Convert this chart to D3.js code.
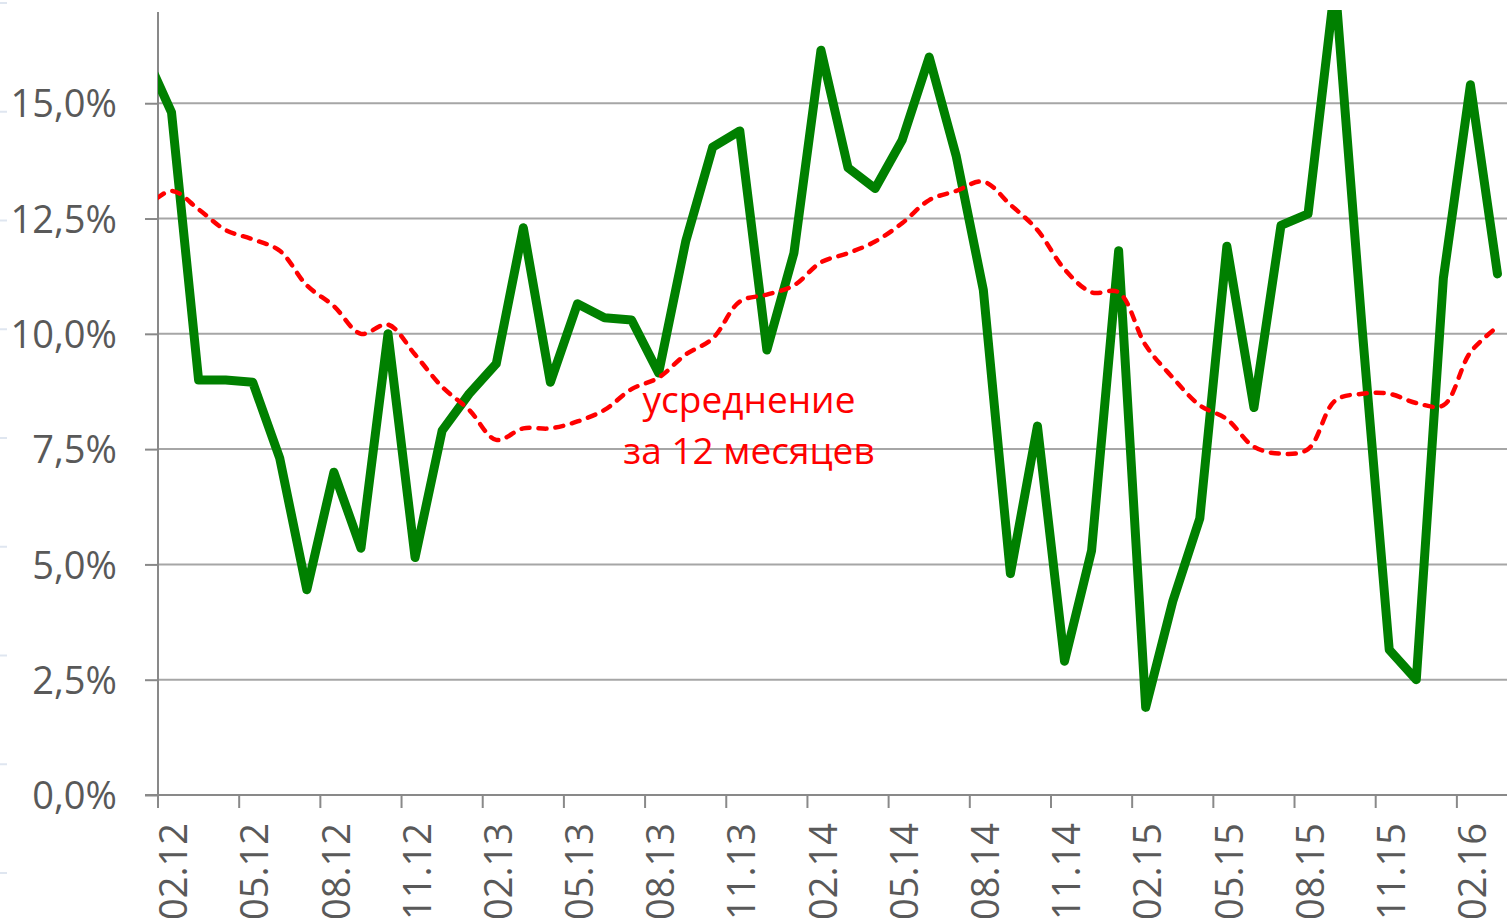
<!DOCTYPE html>
<html>
<head>
<meta charset="utf-8">
<script src="https://cdn.jsdelivr.net/npm/d3@7"></script>
<style>
  html, body { margin: 0; padding: 0; background: #fff; }
  svg { display: block; font-family: "Open Sans", "DejaVu Sans", sans-serif; }
</style>
</head>
<body>
<div id="graph"></div>
<script>
// Data (monthly, first month is partly hidden behind the axis)
const months = [
  "01.12", "02.12", "03.12", "04.12", "05.12", "06.12", "07.12", "08.12", "09.12", "10.12", "11.12", "12.12",
  "01.13", "02.13", "03.13", "04.13", "05.13", "06.13", "07.13", "08.13", "09.13", "10.13", "11.13", "12.13",
  "01.14", "02.14", "03.14", "04.14", "05.14", "06.14", "07.14", "08.14", "09.14", "10.14", "11.14", "12.14",
  "01.15", "02.15", "03.15", "04.15", "05.15", "06.15", "07.15", "08.15", "09.15", "10.15", "11.15", "12.15",
  "01.16", "02.16", "03.16"
];

const monthly = [
  16.1, 14.8, 9.0, 9.0, 8.95, 7.3, 4.45, 7.0, 5.35, 10.0, 5.15, 7.9,
  8.7, 9.35, 12.3, 8.95, 10.65, 10.35, 10.3, 9.15, 12.0, 14.05, 14.4, 9.65,
  11.75, 16.15, 13.6, 13.15, 14.2, 16.0, 13.85, 10.95, 4.8, 8.0, 2.9, 5.3,
  11.8, 1.9, 4.2, 6.0, 11.9, 8.4, 12.35, 12.6, 17.6, 10.1, 3.15, 2.5,
  11.2, 15.4, 11.3
];

const average12 = [
  12.7, 13.1, 12.7, 12.25, 12.05, 11.8, 11.05, 10.6, 10.0, 10.2, 9.55, 8.85,
  8.35, 7.7, 7.95, 7.95, 8.1, 8.35, 8.8, 9.05, 9.55, 9.9, 10.7, 10.85,
  11.05, 11.55, 11.75, 12.0, 12.4, 12.9, 13.1, 13.3, 12.8, 12.25, 11.4, 10.9,
  10.9, 9.75, 9.05, 8.45, 8.15, 7.55, 7.4, 7.5, 8.55, 8.7, 8.7, 8.5,
  8.45, 9.6, 10.15
];

const xLabels = ["02.12", "05.12", "08.12", "11.12", "02.13", "05.13", "08.13", "11.13",
  "02.14", "05.14", "08.14", "11.14", "02.15", "05.15", "08.15", "11.15", "02.16"];

const yTicks = [0, 2.5, 5, 7.5, 10, 12.5, 15];

const noteLines = ["усреднение", "за 12 месяцев"];

// Layout
const width = 1507;
const height = 922;
const plot = { left: 158, right: 1511, top: 10, bottom: 795 };
const step = (plot.right - plot.left) / (months.length - 1);

const svg = d3.select('#graph')
  .append('svg')
    .attr('width', width)
    .attr('height', height);

svg.append('rect')
  .attr('width', width)
  .attr('height', height)
  .attr('fill', '#fff');

// faint marks on the left edge
svg.append('g')
  .selectAll('line')
  .data(d3.range(9))
  .join('line')
    .attr('x1', 0)
    .attr('x2', 7)
    .attr('y1', (d) => 3 + d * 108.75)
    .attr('y2', (d) => 3 + d * 108.75)
    .attr('stroke', '#dfe6f0')
    .attr('stroke-width', 2);

// Scales
const xScale = d3.scaleBand()
  .domain(months)
  .range([plot.left - step, plot.right])
  .paddingInner(0)
  .paddingOuter(0);

const cx = (m) => xScale(m) + xScale.bandwidth() / 2;

const yScale = d3.scaleLinear()
  .domain([0, 17])
  .range([plot.bottom, plot.top + 1]);

// Gridlines
svg.append('g')
  .selectAll('line')
  .data(yTicks.filter((d) => d > 0))
  .join('line')
    .attr('x1', plot.left)
    .attr('x2', width)
    .attr('y1', (d) => yScale(d))
    .attr('y2', (d) => yScale(d))
    .attr('stroke', '#a6a6a6')
    .attr('stroke-width', 2);

// Y axis
const yAxis = svg.append('g')
  .attr('transform', `translate(${plot.left},0)`)
  .call(d3.axisLeft(yScale)
    .tickValues(yTicks)
    .tickSize(13)
    .tickPadding(28)
    .tickFormat((d) => d.toFixed(1).replace('.', ',') + '%'));

yAxis.select('.domain').remove();
yAxis.selectAll('.tick line')
  .attr('stroke', '#898989')
  .attr('stroke-width', 2);
yAxis.selectAll('.tick text')
  .attr('fill', '#595959')
  .attr('font-size', 38)
  .attr('font-family', '"Open Sans", sans-serif')
  .attr('dy', '0.36em');

svg.append('line')
  .attr('x1', plot.left)
  .attr('x2', plot.left)
  .attr('y1', plot.top + 2)
  .attr('y2', plot.bottom)
  .attr('stroke', '#898989')
  .attr('stroke-width', 2);

// X axis
svg.append('line')
  .attr('x1', plot.left - 13)
  .attr('x2', width)
  .attr('y1', plot.bottom)
  .attr('y2', plot.bottom)
  .attr('stroke', '#898989')
  .attr('stroke-width', 2);

const xAxis = svg.append('g');

xAxis.selectAll('line')
  .data(xLabels)
  .join('line')
    .attr('x1', (d) => xScale(d))
    .attr('x2', (d) => xScale(d))
    .attr('y1', plot.bottom)
    .attr('y2', plot.bottom + 13)
    .attr('stroke', '#898989')
    .attr('stroke-width', 2);

xAxis.selectAll('text')
  .data(xLabels)
  .join('text')
    .attr('transform', (d) => `translate(${cx(d) + 2},${plot.bottom + 28}) rotate(-90)`)
    .attr('text-anchor', 'end')
    .attr('dy', '0.36em')
    .attr('fill', '#595959')
    .attr('font-size', 38)
    .text((d) => d);

// Lines
svg.append('clipPath')
  .attr('id', 'plot-clip')
  .append('rect')
    .attr('x', plot.left)
    .attr('y', plot.top)
    .attr('width', width - plot.left)
    .attr('height', plot.bottom - plot.top + 10);

const lines = svg.append('g').attr('clip-path', 'url(#plot-clip)');

const monthlyLine = d3.line()
  .x((d, i) => cx(months[i]))
  .y((d) => yScale(d));

const averageLine = d3.line()
  .x((d, i) => cx(months[i]))
  .y((d) => yScale(d))
  .curve(d3.curveCatmullRom.alpha(0.5));

lines.append('path')
  .datum(monthly)
  .attr('d', monthlyLine)
  .attr('fill', 'none')
  .attr('stroke', '#008000')
  .attr('stroke-width', 9)
  .attr('stroke-linejoin', 'round')
  .attr('stroke-linecap', 'round');

lines.append('path')
  .datum(average12)
  .attr('d', averageLine)
  .attr('fill', 'none')
  .attr('stroke', '#ff0000')
  .attr('stroke-width', 4.5)
  .attr('stroke-dasharray', '8,9')
  .attr('stroke-linecap', 'round');

// Annotation
svg.append('text')
  .attr('x', 749)
  .attr('y', 413)
  .attr('text-anchor', 'middle')
  .attr('fill', '#ff0000')
  .attr('font-size', 37)
  .selectAll('tspan')
  .data(noteLines)
  .join('tspan')
    .attr('x', 749)
    .attr('dy', (d, i) => (i === 0 ? 0 : 51))
    .text((d) => d);
</script>
</body>
</html>
